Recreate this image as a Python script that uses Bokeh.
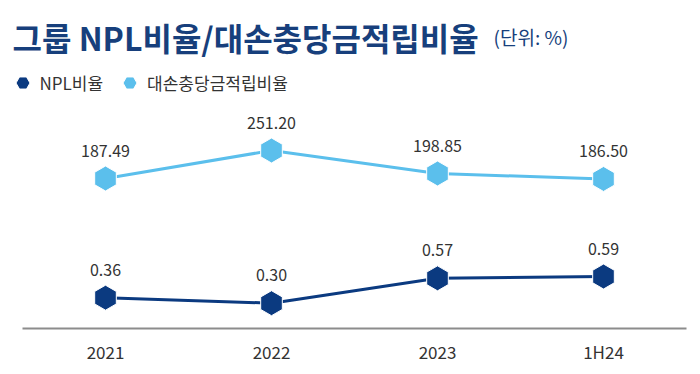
import math
from bokeh.plotting import figure
from bokeh.models import Range1d, Label, Legend, LegendItem, ColumnDataSource, FixedTicker
from bokeh.core.properties import value
from bokeh.embed import file_html
from bokeh.resources import INLINE

# ---- data ----
categories = ["2021", "2022", "2023", "1H24"]
npl_ratio = [0.36, 0.30, 0.57, 0.59]
coverage_ratio = [187.49, 251.20, 198.85, 186.50]
series_names = ["NPL비율", "대손충당금적립비율"]
title_text = "그룹 NPL비율/대손충당금적립비율"
unit_text = "(단위: %)"

# ---- styles ----
FONT = "Noto Sans CJK KR"
NAVY = "#0b3a80"
LIGHT = "#5bbfec"
TITLE_C = "#173f7c"
TEXT_C = "#333333"

idx = list(range(len(categories)))
src = ColumnDataSource(dict(
    x=idx,
    npl=npl_ratio,
    cov=coverage_ratio,
    npl_lbl=[f"{v:.2f}" for v in npl_ratio],
    cov_lbl=[f"{v:.2f}" for v in coverage_ratio],
))

n = len(categories)
p = figure(width=700, height=374,
           x_range=Range1d(-0.5 - 22 / 166, n - 0.5),
           y_range=Range1d(0.025, 3.590),
           output_backend="svg", toolbar_location=None,
           y_axis_location=None, title=None,
           min_border_left=0, min_border_right=14,
           min_border_top=0, min_border_bottom=46)
p.extra_y_ranges = {"cov": Range1d(-153.8, 592.5)}

p.outline_line_color = None
p.xgrid.visible = False
p.ygrid.visible = False
p.background_fill_color = "white"
p.border_fill_color = "white"

ax = p.xaxis[0]
ax.ticker = FixedTicker(ticks=idx)
ax.major_label_overrides = {i: c for i, c in zip(idx, categories)}
ax.bounds = (-0.5, n - 0.5)
ax.axis_line_color = "#8c8c8c"
ax.axis_line_width = 2
ax.major_tick_line_color = None
ax.minor_tick_line_color = None
ax.major_tick_out = 0
ax.major_tick_in = 0
ax.major_label_standoff = 10
ax.major_label_text_font = FONT
ax.major_label_text_font_size = "17px"
ax.major_label_text_color = TEXT_C

# coverage ratio (upper line)
p.line("x", "cov", source=src, y_range_name="cov", line_color=LIGHT, line_width=3)
r_cov = p.scatter("x", "cov", source=src, y_range_name="cov", marker="hex", size=25,
                  angle=math.pi / 2, fill_color=LIGHT, line_color="white", line_width=1)
p.text("x", "cov", text="cov_lbl", source=src, y_range_name="cov", y_offset=-28,
       text_align="center", text_baseline="middle", text_font=value(FONT),
       text_font_size="16px", text_color=TEXT_C)

# NPL ratio (lower line)
p.line("x", "npl", source=src, line_color=NAVY, line_width=3)
r_npl = p.scatter("x", "npl", source=src, marker="hex", size=25,
                  angle=math.pi / 2, fill_color=NAVY, line_color="white", line_width=1)
p.text("x", "npl", text="npl_lbl", source=src, y_offset=-28,
       text_align="center", text_baseline="middle", text_font=value(FONT),
       text_font_size="16px", text_color=TEXT_C)

legend = Legend(items=[LegendItem(label=series_names[0], renderers=[r_npl]),
                       LegendItem(label=series_names[1], renderers=[r_cov])],
                location=(4.5, 228.5), orientation="horizontal",
                glyph_width=35, glyph_height=35, label_standoff=0, spacing=9,
                padding=0, margin=0, border_line_alpha=0, background_fill_alpha=0,
                label_text_font=FONT, label_text_font_size="17px",
                label_text_color=TEXT_C)
p.add_layout(legend)

p.add_layout(Label(x=12, y=292, x_units="screen", y_units="screen", text=title_text,
                   text_font=FONT, text_font_style="bold", text_font_size="32px",
                   text_color=TITLE_C, text_baseline="alphabetic", text_align="left"))
p.add_layout(Label(x=493, y=292, x_units="screen", y_units="screen", text=unit_text,
                   text_font=FONT, text_font_size="19px",
                   text_color=TITLE_C, text_baseline="alphabetic", text_align="left"))

open("out.html", "w").write(file_html(p, INLINE))
